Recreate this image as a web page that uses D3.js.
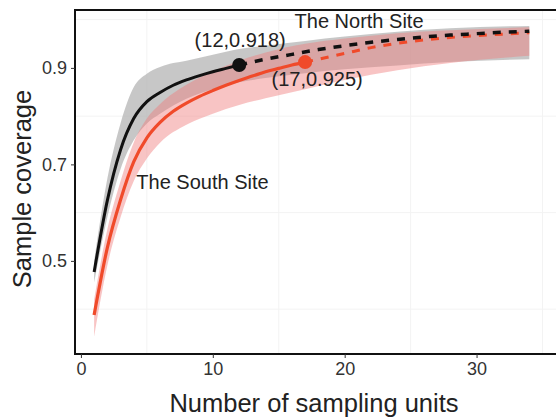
<!DOCTYPE html>
<html lang="en">
  <head>
    <meta charset="utf-8" />
    <title>Sample coverage</title>
    <style>
      body { margin: 0; background: #fff; }
      svg text { font-family: "Liberation Sans", Arial, sans-serif; }
    </style>
  </head>
  <body>
    <div id="chart"></div>
    <script src="https://d3js.org/d3.v7.min.js"></script>
    <script>
      // north site (black), rarefied part 1..12 then extrapolated to 34
      const northX = [1, 2, 3, 4, 5, 6, 7, 8, 9, 10, 11, 12];
      const northY = [0.477, 0.625, 0.73, 0.795, 0.83, 0.849, 0.864, 0.875, 0.884, 0.892, 0.899, 0.906];
      const northExtX = [12, 14, 16, 18, 20, 22, 24, 26, 28, 30, 32, 34];
      const northExtY = [0.906, 0.918, 0.928, 0.938, 0.946, 0.953, 0.959, 0.964, 0.968, 0.971, 0.974, 0.976];
      const northBandX = [1, 2, 3, 4, 5, 6, 7, 8, 9, 10, 12, 14, 17, 20, 24, 28, 34];
      const northLo = [0.455, 0.59, 0.69, 0.75, 0.785, 0.805, 0.822, 0.836, 0.847, 0.856, 0.87, 0.879, 0.889, 0.897, 0.905, 0.912, 0.918];
      const northHi = [0.5, 0.67, 0.785, 0.86, 0.888, 0.902, 0.91, 0.915, 0.921, 0.927, 0.939, 0.946, 0.956, 0.965, 0.975, 0.982, 0.987];

      // south site (red), rarefied 1..17 then extrapolated to 34
      const southX = [1, 2, 3, 4, 5, 6, 7, 8, 9, 10, 11, 12, 13, 14, 15, 16, 17];
      const southY = [0.388, 0.527, 0.626, 0.705, 0.755, 0.787, 0.81, 0.827, 0.841, 0.853, 0.864, 0.874, 0.883, 0.892, 0.899, 0.906, 0.912];
      const southExtX = [17, 18, 20, 22, 24, 26, 28, 30, 32, 34];
      const southExtY = [0.912, 0.918, 0.93, 0.942, 0.951, 0.958, 0.963, 0.967, 0.97, 0.973];
      const southBandX = [1, 2, 3, 4, 5, 6, 8, 10, 12, 14, 17, 20, 24, 28, 34];
      const southLo = [0.343, 0.49, 0.59, 0.665, 0.712, 0.745, 0.782, 0.805, 0.823, 0.837, 0.856, 0.875, 0.895, 0.91, 0.925];
      const southHi = [0.42, 0.565, 0.665, 0.745, 0.795, 0.825, 0.865, 0.893, 0.915, 0.932, 0.95, 0.961, 0.972, 0.978, 0.984];

      const refPoints = [
        { x: 12, y: 0.906, label: "(12,0.918)", color: "#111", dx: 1, dy: -23 },
        { x: 17, y: 0.912, label: "(17,0.925)", color: "#f04a2a", dx: 12, dy: 19 }
      ];
      const siteLabels = [
        { x: 16.2, y: 0.993, text: "The North Site" },
        { x: 4.2, y: 0.66, text: "The South Site" }
      ];
      const xTicks = [0, 10, 20, 30];
      const yTicks = [0.5, 0.7, 0.9];

      const width = 556, height = 418;
      const m = { left: 75, right: 557, top: 10, bottom: 354 };

      const x = d3.scaleLinear().domain([-0.45, 36.1]).range([m.left, m.right]);
      const y = d3.scaleLinear().domain([0.307, 1.02]).range([m.bottom, m.top]);

      const svg = d3.select("#chart").append("svg")
        .attr("width", width).attr("height", height);

      // faint grid
      const grid = svg.append("g").attr("stroke", "#f3f3f3").attr("stroke-width", 1);
      [5, 15, 25, 35].forEach(v => grid.append("line")
        .attr("x1", x(v)).attr("x2", x(v)).attr("y1", m.top).attr("y2", m.bottom));
      [0.4, 0.6, 0.8, 1.0].forEach(v => grid.append("line")
        .attr("x1", m.left).attr("x2", m.right).attr("y1", y(v)).attr("y2", y(v)));

      const area = d3.area().curve(d3.curveMonotoneX)
        .x(d => x(d[0])).y0(d => y(d[1])).y1(d => y(d[2]));
      const line = d3.line().curve(d3.curveMonotoneX)
        .x(d => x(d[0])).y(d => y(d[1]));
      const zip = (a, b, c) => a.map((v, i) => c ? [v, b[i], c[i]] : [v, b[i]]);

      svg.append("path").datum(zip(northBandX, northLo, northHi))
        .attr("d", area).attr("fill", "#b4b4b4").attr("opacity", 0.75);
      svg.append("path").datum(zip(southBandX, southLo, southHi))
        .attr("d", area).attr("fill", "#f07c7c").attr("opacity", 0.45);

      svg.append("path").datum(zip(southX, southY))
        .attr("d", line).attr("fill", "none").attr("stroke", "#f04a2a").attr("stroke-width", 3.2);
      svg.append("path").datum(zip(southExtX, southExtY))
        .attr("d", line).attr("fill", "none").attr("stroke", "#f04a2a")
        .attr("stroke-width", 3).attr("stroke-dasharray", "8,8");
      svg.append("path").datum(zip(northX, northY))
        .attr("d", line).attr("fill", "none").attr("stroke", "#111").attr("stroke-width", 3);
      svg.append("path").datum(zip(northExtX, northExtY))
        .attr("d", line).attr("fill", "none").attr("stroke", "#111")
        .attr("stroke-width", 3.5).attr("stroke-dasharray", "8,8");

      refPoints.forEach(p => {
        svg.append("circle").attr("cx", x(p.x)).attr("cy", y(p.y)).attr("r", 7).attr("fill", p.color);
        svg.append("text").attr("x", x(p.x) + p.dx).attr("y", y(p.y) + p.dy)
          .attr("text-anchor", "middle").attr("dominant-baseline", "middle")
          .attr("font-size", 20).attr("fill", "#222").text(p.label);
      });
      siteLabels.forEach(s => svg.append("text").attr("x", x(s.x)).attr("y", y(s.y))
        .attr("dominant-baseline", "middle").attr("font-size", 20).attr("fill", "#222").text(s.text));

      // panel border
      svg.append("rect").attr("x", m.left).attr("y", m.top)
        .attr("width", m.right - m.left).attr("height", m.bottom - m.top)
        .attr("fill", "none").attr("stroke", "#111").attr("stroke-width", 2);

      const xAxis = svg.append("g").attr("transform", `translate(0,${m.bottom})`)
        .call(d3.axisBottom(x).tickValues(xTicks).tickSize(4).tickPadding(4).tickFormat(d3.format("d")));
      const yAxis = svg.append("g").attr("transform", `translate(${m.left},0)`)
        .call(d3.axisLeft(y).tickValues(yTicks).tickSize(4).tickPadding(4).tickFormat(d3.format(".1f")));
      [xAxis, yAxis].forEach(g => {
        g.select(".domain").remove();
        g.selectAll(".tick line").attr("stroke", "#333");
        g.selectAll(".tick text").attr("font-size", 18).attr("fill", "#333")
          .attr("font-family", "Liberation Sans, Arial, sans-serif");
      });

      svg.append("text").attr("x", 314).attr("y", 412).attr("text-anchor", "middle")
        .attr("font-size", 25.5).attr("fill", "#222").text("Number of sampling units");
      svg.append("text").attr("transform", "translate(31,189) rotate(-90)")
        .attr("text-anchor", "middle").attr("font-size", 25.5).attr("fill", "#222").text("Sample coverage");
    </script>
  </body>
</html>
